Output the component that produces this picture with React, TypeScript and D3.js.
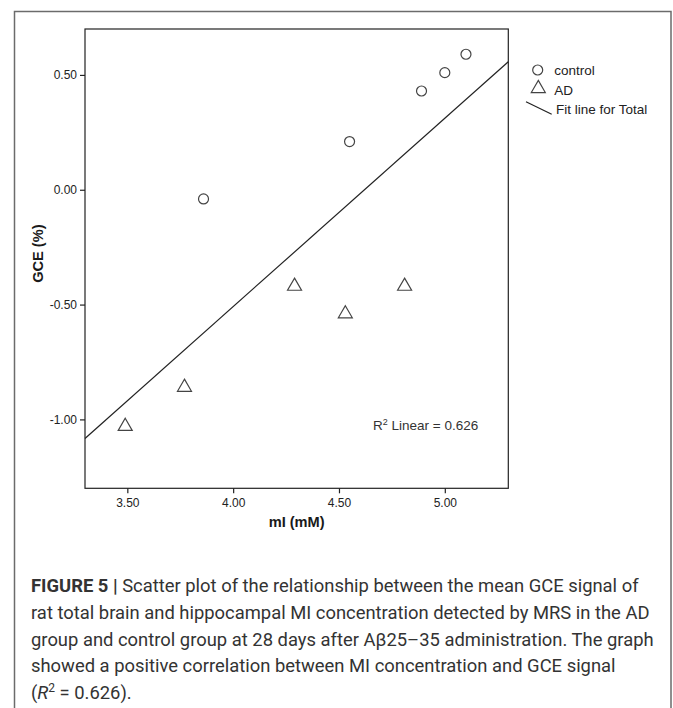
import React, { useEffect, useRef } from "react";
import * as d3 from "d3";

// values
const controlMI = [3.86, 4.55, 4.89, 5.0, 5.1];
const controlGCE = [-0.04, 0.21, 0.43, 0.51, 0.59];
const adMI = [3.49, 3.77, 4.29, 4.53, 4.81];
const adGCE = [-1.03, -0.86, -0.42, -0.54, -0.42];
const xTicks = [3.5, 4.0, 4.5, 5.0];
const yTicks = [0.5, 0.0, -0.5, -1.0];
const legendLabels = ["control", "AD", "Fit line for Total"];
const captionLines = [
  "Scatter plot of the relationship between the mean GCE signal of",
  "rat total brain and hippocampal MI concentration detected by MRS in the AD",
  "group and control group at 28 days after A\u03b225\u201335 administration. The graph",
  "showed a positive correlation between MI concentration and GCE signal",
];

const W = 673;
const H = 708;
const plot = { left: 85, right: 508.3, top: 29, bottom: 488.3 };
const axisFont = "'Liberation Sans', Arial, sans-serif";
const captionFont = "Roboto, 'Liberation Sans', Arial, sans-serif";

const App = () => {
  const ref = useRef<SVGSVGElement | null>(null);

  useEffect(() => {
    const svg = d3.select(ref.current);
    svg.selectAll("*").remove();

    const x = d3.scaleLinear().domain([3.3, 5.3]).range([plot.left, plot.right]);
    const y = d3.scaleLinear().domain([-1.3, 0.7]).range([plot.bottom, plot.top]);

    // outer frame of the figure panel (open at the bottom)
    svg
      .append("path")
      .attr("d", `M14.5,${H} V11.5 H671 V${H}`)
      .attr("fill", "none")
      .attr("stroke", "#6b6b6b")
      .attr("stroke-width", 1.5);

    // plot box
    svg
      .append("rect")
      .attr("x", plot.left)
      .attr("y", plot.top)
      .attr("width", plot.right - plot.left)
      .attr("height", plot.bottom - plot.top)
      .attr("fill", "none")
      .attr("stroke", "#222")
      .attr("stroke-width", 1.2);

    const xAxis = svg
      .append("g")
      .attr("transform", `translate(0,${plot.bottom})`)
      .call(
        d3.axisBottom(x).tickValues(xTicks).tickSize(5).tickPadding(5).tickFormat(d3.format(".2f"))
      );
    const yAxis = svg
      .append("g")
      .attr("transform", `translate(${plot.left},0)`)
      .call(
        d3.axisLeft(y).tickValues(yTicks).tickSize(5).tickPadding(3).tickFormat(d3.format(".2f"))
      );
    [xAxis, yAxis].forEach((g) => {
      g.select(".domain").remove();
      g.selectAll("line").attr("stroke", "#222").attr("stroke-width", 1.2);
      g.selectAll("text")
        .attr("fill", "#222")
        .style("font-family", axisFont)
        .style("font-size", "12px");
    });
    // plain hyphen for negatives, like the original
    yAxis.selectAll("text").text((d: any) => d3.format(".2f")(d).replace("\u2212", "-"));

    // axis titles
    svg
      .append("text")
      .attr("x", (plot.left + plot.right) / 2)
      .attr("y", 527)
      .attr("text-anchor", "middle")
      .style("font-family", axisFont)
      .style("font-size", "14.6px")
      .style("font-weight", "bold")
      .attr("fill", "#1a1a1a")
      .text("mI (mM)");
    svg
      .append("text")
      .attr("transform", `translate(43,${(plot.top + plot.bottom) / 2 - 5}) rotate(-90)`)
      .attr("text-anchor", "middle")
      .style("font-family", axisFont)
      .style("font-size", "14.6px")
      .style("font-weight", "bold")
      .attr("fill", "#1a1a1a")
      .text("GCE (%)");

    // least squares fit over all points
    const allX = controlMI.concat(adMI);
    const allY = controlGCE.concat(adGCE);
    const mx = d3.mean(allX) as number;
    const my = d3.mean(allY) as number;
    const sxy = d3.sum(allX, (v, i) => (v - mx) * (allY[i] - my));
    const sxx = d3.sum(allX, (v) => (v - mx) * (v - mx));
    const slope = sxy / sxx;
    const icpt = my - slope * mx;
    const [x0, x1] = x.domain();
    svg
      .append("line")
      .attr("x1", x(x0))
      .attr("y1", y(icpt + slope * x0))
      .attr("x2", x(x1))
      .attr("y2", y(icpt + slope * x1))
      .attr("stroke", "#222")
      .attr("stroke-width", 1.2);

    const markerColor = "#444";
    svg
      .append("g")
      .selectAll("circle")
      .data(controlMI)
      .enter()
      .append("circle")
      .attr("cx", (d) => x(d))
      .attr("cy", (_, i) => y(controlGCE[i]))
      .attr("r", 5)
      .attr("fill", "none")
      .attr("stroke", markerColor)
      .attr("stroke-width", 1.2);

    const tri = d3.symbol().type(d3.symbolTriangle).size(85);
    svg
      .append("g")
      .selectAll("path")
      .data(adMI)
      .enter()
      .append("path")
      .attr("d", tri as any)
      .attr("transform", (d, i) => `translate(${x(d)},${y(adGCE[i])})`)
      .attr("fill", "none")
      .attr("stroke", markerColor)
      .attr("stroke-width", 1.2);

    // R² annotation
    const r2 = svg
      .append("text")
      .attr("x", 373)
      .attr("y", 430)
      .style("font-family", axisFont)
      .style("font-size", "13.5px")
      .attr("fill", "#333");
    r2.append("tspan").text("R");
    r2.append("tspan").attr("dy", -5).style("font-size", "9px").text("2");
    r2.append("tspan").attr("dy", 5).text(" Linear = 0.626");

    // legend
    const lg = svg.append("g");
    lg.append("circle")
      .attr("cx", 537.7)
      .attr("cy", 70)
      .attr("r", 5)
      .attr("fill", "none")
      .attr("stroke", markerColor)
      .attr("stroke-width", 1.2);
    lg.append("path")
      .attr("d", tri as any)
      .attr("transform", "translate(538.3,88.5)")
      .attr("fill", "none")
      .attr("stroke", markerColor)
      .attr("stroke-width", 1.2);
    lg.append("line")
      .attr("x1", 526)
      .attr("y1", 101.7)
      .attr("x2", 551.7)
      .attr("y2", 114.3)
      .attr("stroke", "#222")
      .attr("stroke-width", 1.2);
    const lgY = [75, 94.5, 114];
    lg.selectAll("text")
      .data(legendLabels)
      .enter()
      .append("text")
      .attr("x", (_, i) => (i === 2 ? 556 : 554.3))
      .attr("y", (_, i) => lgY[i])
      .style("font-family", axisFont)
      .style("font-size", "13.5px")
      .attr("fill", "#222")
      .text((d) => d);

    // caption
    const cap = svg
      .append("g")
      .style("font-family", captionFont)
      .style("font-size", "18.4px")
      .attr("fill", "#333");
    const first = cap.append("text").attr("x", 31).attr("y", 592);
    first.append("tspan").style("font-weight", "bold").text("FIGURE 5 | ");
    first.append("tspan").text(captionLines[0]);
    captionLines.slice(1).forEach((line, i) => {
      cap
        .append("text")
        .attr("x", 31)
        .attr("y", 592 + (i + 1) * 26.8)
        .text(line);
    });
    const last = cap.append("text").attr("x", 31).attr("y", 592 + 4 * 26.8);
    last.append("tspan").text("(");
    last.append("tspan").style("font-style", "italic").text("R");
    last.append("tspan").attr("dy", -7).style("font-size", "12px").text("2");
    last.append("tspan").attr("dy", 7).text(" = 0.626).");
  }, []);

  return (
    <svg
      ref={ref}
      width={W}
      height={H}
      style={{ position: "absolute", left: 0, top: 0, background: "#fff" }}
    />
  );
};

export default App;
